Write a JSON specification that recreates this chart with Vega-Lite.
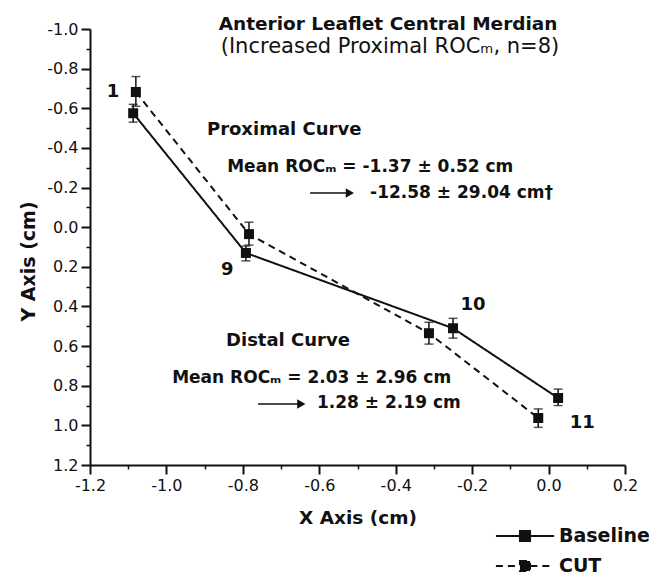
{
  "$schema": "https://vega.github.io/schema/vega-lite/v6.json",
  "width": 535,
  "height": 436,
  "autosize": "none",
  "padding": {"left": 90, "top": 29, "right": 24, "bottom": 110},
  "background": "white",
  "config": {
    "view": {"stroke": null},
    "font": "DejaVu Sans",
    "axis": {"labelFont": "DejaVu Sans", "titleFont": "DejaVu Sans", "labelColor": "#111", "titleColor": "#111", "domainColor": "#111", "tickColor": "#111", "grid": false}
  },
  "datasets": {
    "pts": [
      {"series": "Baseline", "pos": "1", "x": -1.087, "y": -0.575, "lo": -0.62, "hi": -0.53},
      {"series": "Baseline", "pos": "9", "x": -0.792, "y": 0.13, "lo": 0.095, "hi": 0.17},
      {"series": "Baseline", "pos": "10", "x": -0.25, "y": 0.51, "lo": 0.46, "hi": 0.56},
      {"series": "Baseline", "pos": "11", "x": 0.025, "y": 0.862, "lo": 0.817, "hi": 0.9},
      {"series": "CUT", "pos": "1", "x": -1.08, "y": -0.682, "lo": -0.76, "hi": -0.61},
      {"series": "CUT", "pos": "9", "x": -0.784, "y": 0.035, "lo": -0.025, "hi": 0.09},
      {"series": "CUT", "pos": "10", "x": -0.313, "y": 0.535, "lo": 0.48, "hi": 0.59},
      {"series": "CUT", "pos": "11", "x": -0.027, "y": 0.963, "lo": 0.917, "hi": 1.01}
    ],
    "labels": [
      {"text": "1", "x": -1.14, "y": -0.657},
      {"text": "9", "x": -0.841, "y": 0.241},
      {"text": "10", "x": -0.198, "y": 0.418},
      {"text": "11", "x": 0.088, "y": 1.013}
    ],
    "heads": [
      {"text": "Proximal Curve", "x": -0.894, "y": -0.465},
      {"text": "Distal Curve", "x": -0.844, "y": 0.6}
    ],
    "notes": [
      {"text": "Mean ROCₘ = -1.37 ± 0.52 cm", "x": -0.841, "y": -0.278},
      {"text": "-12.58 ± 29.04 cm†", "x": -0.467, "y": -0.147},
      {"text": "Mean ROCₘ = 2.03 ± 2.96 cm", "x": -0.985, "y": 0.786},
      {"text": "1.28 ± 2.19 cm", "x": -0.606, "y": 0.912}
    ],
    "arrows": [
      {"x1": -0.624, "x2": -0.52, "y": -0.172},
      {"x1": -0.76, "x2": -0.647, "y": 0.892}
    ],
    "title": [{"text": "Anterior Leaflet Central Merdian", "x": -0.42, "y": -0.993}],
    "subtitle": [{"text": "(Increased Proximal ROCₘ, n=8)", "x": -0.415, "y": -0.879}]
  },
  "resolve": {"axis": {"x": "independent", "y": "independent"}},
  "layer": [
    {
      "data": {"name": "pts"},
      "mark": {"type": "point", "opacity": 0},
      "encoding": {
        "x": {"field": "x", "type": "quantitative", "scale": {"domain": [-1.2, 0.2], "nice": false, "zero": false},
          "axis": {"orient": "bottom", "values": [-1.1, -0.9, -0.7, -0.5, -0.3, -0.1, 0.1], "labels": false, "domain": false, "tickSize": 4, "tickWidth": 1.5, "title": null}},
        "y": {"field": "y", "type": "quantitative", "scale": {"domain": [-1.0, 1.2], "nice": false, "zero": false, "reverse": true},
          "axis": {"orient": "left", "values": [-0.9, -0.7, -0.5, -0.3, -0.1, 0.1, 0.3, 0.5, 0.7, 0.9, 1.1], "labels": false, "domain": false, "tickSize": 4, "tickWidth": 1.5, "title": null}}
      }
    },
    {
      "data": {"name": "pts"},
      "mark": {"type": "line", "strokeWidth": 2, "color": "#111"},
      "encoding": {
        "x": {"field": "x", "type": "quantitative",
          "axis": {"orient": "bottom", "values": [-1.2, -1.0, -0.8, -0.6, -0.4, -0.2, 0.0, 0.2], "labelExpr": "replace(format(datum.value, '.1f'), '\u2212', '-')", "tickSize": 9, "tickWidth": 2, "domainWidth": 2, "labelFontSize": 16, "labelPadding": 3, "labelFlush": false, "labelOverlap": false, "title": "X Axis (cm)", "titleFontSize": 18.5, "titleFontWeight": "bold", "titlePadding": 15}},
        "y": {"field": "y", "type": "quantitative",
          "axis": {"orient": "left", "values": [-1.0, -0.8, -0.6, -0.4, -0.2, 0.0, 0.2, 0.4, 0.6, 0.8, 1.0, 1.2], "labelExpr": "replace(format(datum.value, '.1f'), '\u2212', '-')", "tickSize": 9, "tickWidth": 2, "domainWidth": 2, "labelFontSize": 16, "labelPadding": 3, "labelFlush": false, "labelOverlap": false, "title": "Y Axis (cm)", "titleFontSize": 19, "titleFontWeight": "bold", "titlePadding": 8, "titleY": 232}},
        "strokeDash": {"field": "series", "type": "nominal", "scale": {"domain": ["Baseline", "CUT"], "range": [[1, 0], [7, 5]]},
          "legend": {"orient": "none", "legendX": 424, "legendY": 496, "title": null, "symbolType": "M-3,0L-0.55,0M0.55,0L3,0M-0.52,-0.52L0.52,-0.52L0.52,0.52L-0.52,0.52Z", "symbolSize": 376, "symbolStrokeWidth": 2, "symbolStrokeColor": "#111", "symbolFillColor": "#111", "labelFontSize": 19, "labelFontWeight": "bold", "labelColor": "#111", "labelFont": "DejaVu Sans", "labelOffset": 23, "rowPadding": 9}}
      }
    },
    {
      "data": {"name": "pts"},
      "mark": {"type": "rule", "strokeWidth": 1.5, "color": "#111"},
      "encoding": {"x": {"field": "x", "type": "quantitative", "axis": null}, "y": {"field": "lo", "type": "quantitative", "axis": null}, "y2": {"field": "hi"}}
    },
    {
      "data": {"name": "pts"},
      "mark": {"type": "tick", "orient": "horizontal", "size": 9, "thickness": 1.5, "color": "#111"},
      "encoding": {"x": {"field": "x", "type": "quantitative", "axis": null}, "y": {"field": "lo", "type": "quantitative", "axis": null}}
    },
    {
      "data": {"name": "pts"},
      "mark": {"type": "tick", "orient": "horizontal", "size": 9, "thickness": 1.5, "color": "#111"},
      "encoding": {"x": {"field": "x", "type": "quantitative", "axis": null}, "y": {"field": "hi", "type": "quantitative", "axis": null}}
    },
    {
      "data": {"name": "pts"},
      "mark": {"type": "square", "size": 100, "filled": true, "color": "#111", "opacity": 1},
      "encoding": {"x": {"field": "x", "type": "quantitative", "axis": null}, "y": {"field": "y", "type": "quantitative", "axis": null}}
    },
    {
      "data": {"name": "arrows"},
      "mark": {"type": "rule", "strokeWidth": 1.5, "color": "#111"},
      "encoding": {"x": {"field": "x1", "type": "quantitative", "axis": null}, "x2": {"field": "x2"}, "y": {"field": "y", "type": "quantitative", "axis": null}}
    },
    {
      "data": {"name": "arrows"},
      "mark": {"type": "point", "shape": "triangle-right", "size": 90, "filled": true, "color": "#111", "opacity": 1},
      "encoding": {"x": {"field": "x2", "type": "quantitative", "axis": null}, "y": {"field": "y", "type": "quantitative", "axis": null}}
    },
    {
      "data": {"name": "labels"},
      "mark": {"type": "text", "fontSize": 18, "fontWeight": "bold", "align": "center", "baseline": "alphabetic", "color": "#111"},
      "encoding": {"x": {"field": "x", "type": "quantitative", "axis": null}, "y": {"field": "y", "type": "quantitative", "axis": null}, "text": {"field": "text"}}
    },
    {
      "data": {"name": "heads"},
      "mark": {"type": "text", "fontSize": 18, "fontWeight": "bold", "align": "left", "baseline": "alphabetic", "color": "#111"},
      "encoding": {"x": {"field": "x", "type": "quantitative", "axis": null}, "y": {"field": "y", "type": "quantitative", "axis": null}, "text": {"field": "text"}}
    },
    {
      "data": {"name": "notes"},
      "mark": {"type": "text", "fontSize": 17, "fontWeight": "bold", "align": "left", "baseline": "alphabetic", "color": "#111"},
      "encoding": {"x": {"field": "x", "type": "quantitative", "axis": null}, "y": {"field": "y", "type": "quantitative", "axis": null}, "text": {"field": "text"}}
    },
    {
      "data": {"name": "title"},
      "mark": {"type": "text", "fontSize": 18.5, "fontWeight": "bold", "align": "center", "baseline": "alphabetic", "color": "#111"},
      "encoding": {"x": {"field": "x", "type": "quantitative", "axis": null}, "y": {"field": "y", "type": "quantitative", "axis": null}, "text": {"field": "text"}}
    },
    {
      "data": {"name": "subtitle"},
      "mark": {"type": "text", "fontSize": 21, "fontWeight": "normal", "align": "center", "baseline": "alphabetic", "color": "#111"},
      "encoding": {"x": {"field": "x", "type": "quantitative", "axis": null}, "y": {"field": "y", "type": "quantitative", "axis": null}, "text": {"field": "text"}}
    }
  ]
}
